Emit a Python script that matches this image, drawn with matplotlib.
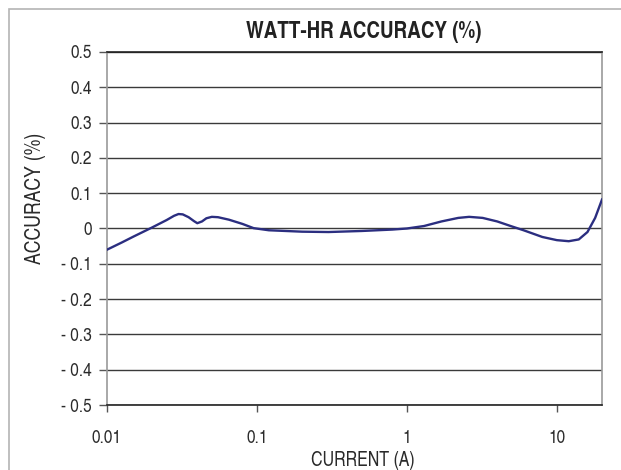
import matplotlib
matplotlib.use("Agg")
import matplotlib.pyplot as plt
from matplotlib.patches import Rectangle
from matplotlib.ticker import FixedLocator, FixedFormatter, NullLocator

plt.rcParams['font.family'] = ['TeX Gyre Heros Cn', 'DejaVu Sans']

# Measured accuracy versus load current
current_a = [0.010, 0.0125, 0.015, 0.020, 0.025, 0.028, 0.030, 0.032, 0.035,
             0.038, 0.040, 0.043, 0.046, 0.050, 0.055, 0.065, 0.080, 0.095,
             0.12, 0.20, 0.30, 0.50, 0.80, 1.0, 1.3, 1.7, 2.2, 2.6, 3.2, 4.0,
             5.0, 6.0, 8.0, 10.0, 12.0, 14.0, 16.0, 18.0, 20.0]
accuracy_pct = [-0.060, -0.040, -0.023, 0.003, 0.024, 0.036, 0.041, 0.040, 0.032,
                0.021, 0.015, 0.020, 0.029, 0.033, 0.032, 0.025, 0.013, 0.001,
                -0.005, -0.009, -0.010, -0.007, -0.003, 0.000, 0.007, 0.020, 0.030,
                0.033, 0.030, 0.020, 0.006, -0.005, -0.024, -0.033, -0.036, -0.031,
                -0.010, 0.030, 0.082]

x_ticks = [0.01, 0.1, 1, 10]
x_tick_labels = ["0.01", "0.1", "1", "10"]
y_ticks = [-0.5, -0.4, -0.3, -0.2, -0.1, 0.0, 0.1, 0.2, 0.3, 0.4, 0.5]
y_tick_labels = ["- 0.5", "- 0.4", "- 0.3", "- 0.2", "- 0.1", "0",
                 "0.1", "0.2", "0.3", "0.4", "0.5"]

fig = plt.figure(figsize=(6.21, 4.70), dpi=100)

# outer frame around the plot
fig.patches.append(Rectangle((9 / 621, -0.1), 1.5, 1 - 9 / 470 + 0.1,
                             transform=fig.transFigure, fill=False,
                             edgecolor="#b4b4b4", linewidth=1.2))

ax = fig.add_axes([107 / 621, 1 - 405 / 470, (602 - 107) / 621, (405 - 52) / 470])
ax.set_xscale("log")
ax.set_xlim(0.01, 20)
ax.set_ylim(-0.5, 0.5)

for yv in y_ticks:
    ax.axhline(yv, color="#3a3a3a", linewidth=1.0, zorder=1)

ax.plot(current_a, accuracy_pct, color="#2b2e80", linewidth=1.7, zorder=3)

ax.xaxis.set_major_locator(FixedLocator(x_ticks))
ax.xaxis.set_major_formatter(FixedFormatter(x_tick_labels))
ax.xaxis.set_minor_locator(NullLocator())
ax.yaxis.set_major_locator(FixedLocator(y_ticks))
ax.yaxis.set_major_formatter(FixedFormatter(y_tick_labels))

ax.tick_params(axis="x", direction="out", length=5, width=1, color="#555555",
               labelsize=13.5, pad=13, labelcolor="#2a2a2a")
ax.tick_params(axis="y", direction="out", length=6, width=1, color="#555555",
               labelsize=13.5, pad=5, labelcolor="#2a2a2a")

for side in ["left", "right"]:
    ax.spines[side].set_color("#9a9a9a")
    ax.spines[side].set_linewidth(1.2)
for side in ["top", "bottom"]:
    ax.spines[side].set_color("#222222")
    ax.spines[side].set_linewidth(1.2)

fig.text(363 / 621, 1 - 461 / 470, "CURRENT (A)", ha="center", va="center",
         fontsize=14, color="#2a2a2a")
fig.text(35 / 621, 1 - 198 / 470, "ACCURACY (%)", ha="center", va="center",
         rotation=90, fontsize=15.5, color="#2a2a2a")
fig.text(364 / 621, 1 - 32 / 470, "WATT-HR ACCURACY (%)", ha="center", va="center",
         fontsize=16.5, fontweight="bold", color="#222222")

fig.savefig("out.png", dpi=100)
